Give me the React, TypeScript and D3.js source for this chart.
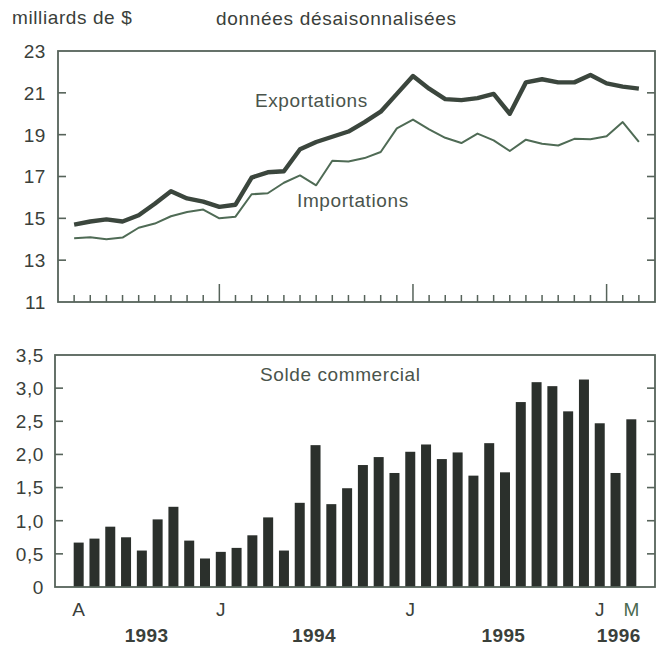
import React, { useEffect, useRef } from "react";
import * as d3 from "d3";

// monthly, avril 1993 - mars 1996
const months = [
  "1993-04", "1993-05", "1993-06", "1993-07", "1993-08", "1993-09",
  "1993-10", "1993-11", "1993-12", "1994-01", "1994-02", "1994-03",
  "1994-04", "1994-05", "1994-06", "1994-07", "1994-08", "1994-09",
  "1994-10", "1994-11", "1994-12", "1995-01", "1995-02", "1995-03",
  "1995-04", "1995-05", "1995-06", "1995-07", "1995-08", "1995-09",
  "1995-10", "1995-11", "1995-12", "1996-01", "1996-02", "1996-03",
];

const exportations = [
  14.7, 14.85, 14.95, 14.85, 15.15, 15.7, 16.3, 15.95, 15.8, 15.55, 15.65,
  16.95, 17.2, 17.25, 18.3, 18.65, 18.9, 19.15, 19.6, 20.1, 20.95, 21.8, 21.2,
  20.7, 20.65, 20.75, 20.95, 20.0, 21.5, 21.65, 21.5, 21.5, 21.85, 21.45, 21.3,
  21.2,
];

const importations = [
  14.05, 14.1, 14.0, 14.08, 14.55, 14.75, 15.1, 15.3, 15.42, 15.0, 15.08,
  16.15, 16.2, 16.7, 17.05, 16.58, 17.75, 17.72, 17.88, 18.17, 19.3, 19.72,
  19.25, 18.85, 18.6, 19.05, 18.73, 18.22, 18.76, 18.57, 18.48, 18.8, 18.78,
  18.92, 19.6, 18.65,
];

const solde = [
  0.67, 0.73, 0.91, 0.75, 0.55, 1.02, 1.21, 0.7, 0.43, 0.53, 0.59, 0.78, 1.05,
  0.55, 1.27, 2.14, 1.25, 1.49, 1.84, 1.96, 1.72, 2.04, 2.15, 1.93, 2.03, 1.68,
  2.17, 1.73, 2.79, 3.09, 3.03, 2.65, 3.13, 2.47, 1.72, 2.53,
];

const topTicks = [11, 13, 15, 17, 19, 21, 23];
const bottomTicks = [0, 0.5, 1, 1.5, 2, 2.5, 3, 3.5];

const monthLabels = [
  { month: "1993-04", text: "A" },
  { month: "1994-01", text: "J" },
  { month: "1995-01", text: "J" },
  { month: "1996-01", text: "J" },
  { month: "1996-03", text: "M" },
];

// year label and the (fractional) month index it sits under
const yearLabels = ["1993", "1994", "1995", "1996"];
const yearIndex = [4.3, 14.9, 26.9, 34.2];

const FONT = "'Liberation Sans', Arial, Helvetica, sans-serif";
const TEXT = "#3a403a";
const FRAME = "#56635a";

export default function App() {
  const svgRef = useRef<SVGSVGElement>(null);

  useEffect(() => {
    if (!svgRef.current) return;
    const svg = d3.select(svgRef.current);
    svg.selectAll("*").remove();

    const fmt = (v: number) => (v === 0 ? "0" : d3.format(".1f")(v).replace(".", ","));

    // ---------- top panel ----------
    const top = { x0: 58, x1: 655, y0: 51, y1: 302 };
    const xTop = d3.scalePoint<string>().domain(months).range([top.x0, top.x1]).padding(1);
    const yTop = d3.scaleLinear().domain([11, 23]).range([top.y1, top.y0]);

    const gTop = svg.append("g");

    // y ticks inside both sides
    topTicks
      .filter((t) => t > 11 && t < 23)
      .forEach((t) => {
        gTop.append("line")
          .attr("x1", top.x0).attr("x2", top.x0 + 8)
          .attr("y1", yTop(t)).attr("y2", yTop(t))
          .attr("stroke", FRAME).attr("stroke-width", 1.6);
        gTop.append("line")
          .attr("x1", top.x1 - 8).attr("x2", top.x1)
          .attr("y1", yTop(t)).attr("y2", yTop(t))
          .attr("stroke", FRAME).attr("stroke-width", 1.6);
      });

    gTop.selectAll(".ylab")
      .data(topTicks)
      .enter()
      .append("text")
      .attr("x", 46)
      .attr("y", (d) => yTop(d))
      .attr("dy", "0.36em")
      .attr("text-anchor", "end")
      .attr("font-family", FONT)
      .attr("font-size", 19)
      .attr("letter-spacing", 0.6)
      .attr("fill", TEXT)
      .text((d) => String(d));

    // month ticks along the bottom, longer for January
    months.forEach((m) => {
      const major = m.endsWith("-01");
      gTop.append("line")
        .attr("x1", xTop(m)!).attr("x2", xTop(m)!)
        .attr("y1", top.y1).attr("y2", top.y1 - (major ? 18 : 7))
        .attr("stroke", FRAME).attr("stroke-width", 1.5);
    });

    const line = d3
      .line<number>()
      .x((_, i) => xTop(months[i])!)
      .y((d) => yTop(d))
      .curve(d3.curveLinear);

    gTop.append("path")
      .attr("d", line(importations))
      .attr("fill", "none")
      .attr("stroke", "#4f6b55")
      .attr("stroke-width", 2)
      .attr("stroke-linejoin", "round");

    gTop.append("path")
      .attr("d", line(exportations))
      .attr("fill", "none")
      .attr("stroke", "#3b463d")
      .attr("stroke-width", 4.4)
      .attr("stroke-linejoin", "round");

    gTop.append("rect")
      .attr("x", top.x0).attr("y", top.y0)
      .attr("width", top.x1 - top.x0).attr("height", top.y1 - top.y0)
      .attr("fill", "none").attr("stroke", FRAME).attr("stroke-width", 1.8);

    gTop.append("text")
      .attr("x", 255).attr("y", 107)
      .attr("font-family", FONT).attr("font-size", 19).attr("letter-spacing", 0.6)
      .attr("fill", "#4a544c")
      .text("Exportations");

    gTop.append("text")
      .attr("x", 297).attr("y", 207)
      .attr("font-family", FONT).attr("font-size", 19).attr("letter-spacing", 0.6)
      .attr("fill", "#4a544c")
      .text("Importations");

    // header
    svg.append("text")
      .attr("x", 12).attr("y", 24)
      .attr("font-family", FONT).attr("font-size", 19).attr("letter-spacing", 0.6)
      .attr("fill", TEXT)
      .text("milliards de $");
    svg.append("text")
      .attr("x", 216).attr("y", 25)
      .attr("font-family", FONT).attr("font-size", 19).attr("letter-spacing", 0.7)
      .attr("fill", TEXT)
      .text("données désaisonnalisées");

    // ---------- bottom panel ----------
    const bot = { x0: 55, x1: 655, y0: 355, y1: 587 };
    const xBot = d3.scalePoint<string>().domain(months).range([bot.x0, bot.x1]).padding(1.5);
    const yBot = d3.scaleLinear().domain([0, 3.5]).range([bot.y1, bot.y0]);
    const barW = 10;

    const gBot = svg.append("g");

    bottomTicks
      .filter((t) => t > 0 && t < 3.5)
      .forEach((t) => {
        gBot.append("line")
          .attr("x1", bot.x0).attr("x2", bot.x0 + 8)
          .attr("y1", yBot(t)).attr("y2", yBot(t))
          .attr("stroke", FRAME).attr("stroke-width", 1.6);
        gBot.append("line")
          .attr("x1", bot.x1 - 8).attr("x2", bot.x1)
          .attr("y1", yBot(t)).attr("y2", yBot(t))
          .attr("stroke", FRAME).attr("stroke-width", 1.6);
      });

    gBot.selectAll(".ylab")
      .data(bottomTicks)
      .enter()
      .append("text")
      .attr("x", 44)
      .attr("y", (d) => yBot(d))
      .attr("dy", "0.36em")
      .attr("text-anchor", "end")
      .attr("font-family", FONT)
      .attr("font-size", 19)
      .attr("letter-spacing", 0.6)
      .attr("fill", TEXT)
      .text((d) => fmt(d));

    gBot.selectAll(".bar")
      .data(solde)
      .enter()
      .append("rect")
      .attr("x", (_, i) => xBot(months[i])! - barW / 2)
      .attr("y", (d) => yBot(d))
      .attr("width", barW)
      .attr("height", (d) => yBot(0) - yBot(d))
      .attr("fill", "#2b302c");

    gBot.append("rect")
      .attr("x", bot.x0).attr("y", bot.y0)
      .attr("width", bot.x1 - bot.x0).attr("height", bot.y1 - bot.y0)
      .attr("fill", "none").attr("stroke", FRAME).attr("stroke-width", 1.8);

    gBot.append("text")
      .attr("x", 260).attr("y", 381)
      .attr("font-family", FONT).attr("font-size", 19).attr("letter-spacing", 0.6)
      .attr("fill", "#4a544c")
      .text("Solde commercial");

    // month letters and years
    monthLabels.forEach((l) => {
      svg.append("text")
        .attr("x", xBot(l.month)!).attr("y", 616)
        .attr("text-anchor", "middle")
        .attr("font-family", FONT).attr("font-size", 19)
        .attr("fill", l.text === "M" ? "#4a6a50" : TEXT)
        .text(l.text);
    });

    const step = xBot.step();
    const first = xBot(months[0])!;
    yearLabels.forEach((y, i) => {
      svg.append("text")
        .attr("x", first + yearIndex[i] * step).attr("y", 642)
        .attr("text-anchor", "middle")
        .attr("font-family", FONT).attr("font-size", 19).attr("font-weight", "bold")
        .attr("letter-spacing", 0.4)
        .attr("fill", TEXT)
        .text(y);
    });
  }, []);

  return (
    <svg
      ref={svgRef}
      width={660}
      height={646}
      style={{ position: "absolute", left: 0, top: 0, background: "#fff" }}
    />
  );
}
